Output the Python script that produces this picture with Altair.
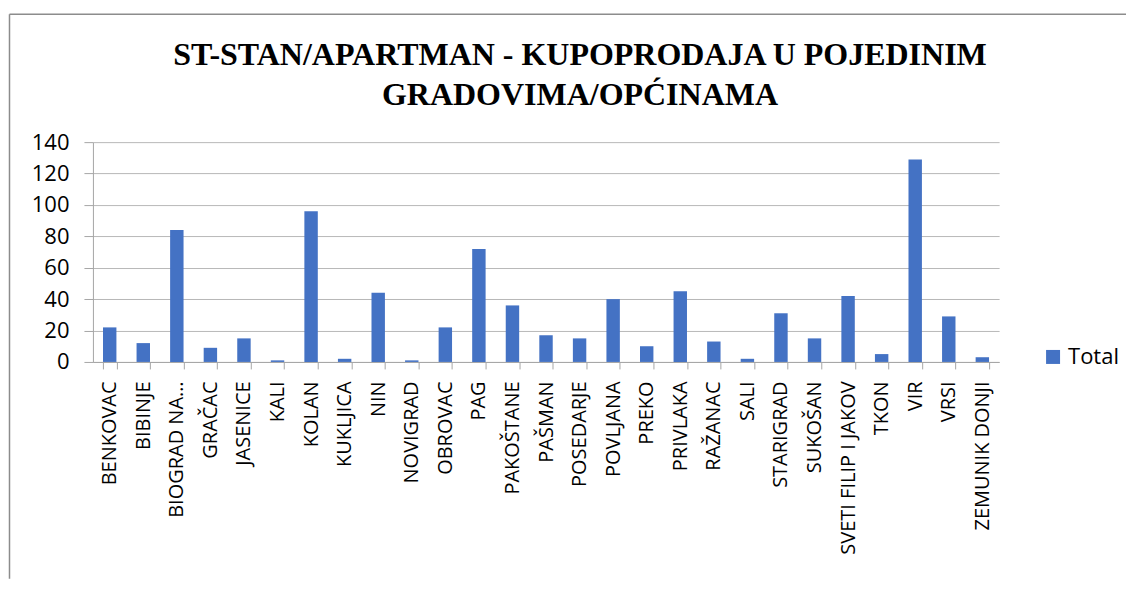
import altair as alt
import pandas as pd

categories = ["BENKOVAC", "BIBINJE", "BIOGRAD NA MORU", "GRAČAC", "JASENICE", "KALI", "KOLAN",
              "KUKLJICA", "NIN", "NOVIGRAD", "OBROVAC", "PAG", "PAKOŠTANE", "PAŠMAN",
              "POSEDARJE", "POVLJANA", "PREKO", "PRIVLAKA", "RAŽANAC", "SALI", "STARIGRAD",
              "SUKOŠAN", "SVETI FILIP I JAKOV", "TKON", "VIR", "VRSI", "ZEMUNIK DONJI"]
values = [22, 12, 84, 9, 15, 1, 96, 2, 44, 1, 22, 72, 36, 17, 15, 40, 10, 45, 13, 2, 31,
          15, 42, 5, 129, 29, 3]
series = ["Total"] * len(categories)
y_ticks = [0, 20, 40, 60, 80, 100, 120, 140]
title_lines = ["ST-STAN/APARTMAN - KUPOPRODAJA U POJEDINIM", "GRADOVIMA/OPĆINAMA"]

df = pd.DataFrame({"grad": categories, "vrijednost": values, "serija": series})

bars = alt.Chart(df).mark_bar().encode(
    x=alt.X("grad:N", sort=categories,
            scale=alt.Scale(paddingInner=0.6, paddingOuter=0.3),
            axis=alt.Axis(title=None, labelAngle=-90, tickBand="extent", tickSize=7,
                          labelPadding=12, labelFontSize=20, labelLimit=400,
                          labelExpr="datum.label == 'BIOGRAD NA MORU' ? 'BIOGRAD NA…' : datum.label",
                          domainColor="#a6a6a6", tickColor="#a6a6a6")),
    y=alt.Y("vrijednost:Q", scale=alt.Scale(domain=[0, 140], nice=False),
            axis=alt.Axis(title=None, values=y_ticks, tickSize=9, labelPadding=15,
                          labelFontSize=22, gridColor="#b8b8b8", domainColor="#a6a6a6",
                          tickColor="#a6a6a6")),
    color=alt.Color("serija:N", scale=alt.Scale(range=["#4472C4"]),
                    legend=alt.Legend(title=None, orient="none", legendX=950, legendY=204,
                                      symbolType="square", symbolSize=196,
                                      symbolStrokeWidth=0, labelFontSize=22,
                                      labelFont="Open Sans", labelColor="black"))
)

frame_df = pd.DataFrame({"k": [0]})
frame_left = alt.Chart(frame_df).mark_rule(color="#8c8c8c", strokeWidth=1.5).encode(
    x=alt.value(-83.5), y=alt.value(-128), y2=alt.value(437))
frame_top = alt.Chart(frame_df).mark_rule(color="#8c8c8c", strokeWidth=1.5).encode(
    x=alt.value(-83.5), x2=alt.value(1034), y=alt.value(-128))

chart = alt.layer(frame_left, frame_top, bars).properties(
    width=907, height=220,
    padding={"left": 0, "top": 5, "right": 0, "bottom": 0},
    title=alt.TitleParams(title_lines, font="Liberation Serif", fontSize=32,
                          fontWeight="bold", anchor="middle", dx=34, lineHeight=40,
                          offset=-99, color="black"),
).configure_view(stroke=None).configure_axis(
    labelFont="Open Sans", labelColor="black", grid=True
).configure_axisX(grid=False)

chart.save("out.html", embed_options={"renderer": "svg", "actions": False})
